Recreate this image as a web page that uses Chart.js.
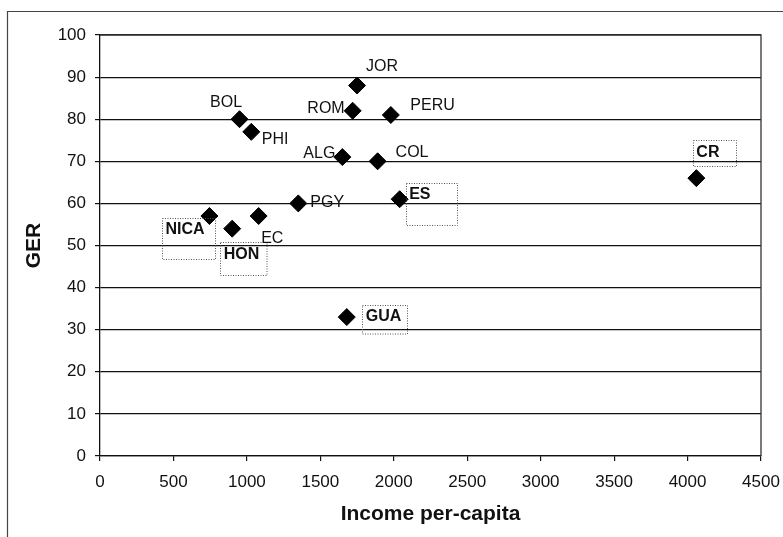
<!DOCTYPE html>
<html><head><meta charset="utf-8">
<script src="https://cdn.jsdelivr.net/npm/chart.js@4"></script>
<style>html,body{margin:0;padding:0;background:#fff}#wrap{width:783px;height:537px;position:relative}</style>
</head><body><div id="wrap"><canvas id="c" width="783" height="537"></canvas></div>
<script>
// ---- data ----
const countries = ['NICA','HON','EC','PGY','BOL','PHI','ALG','COL','ROM','JOR','PERU','ES','GUA','CR'];
const income    = [745, 900, 1080, 1350, 950, 1030, 1650, 1890, 1720, 1750, 1980, 2040, 1680, 4060];
const ger       = [57, 54, 57, 60, 80, 77, 71, 70, 82, 88, 81, 61, 33, 66];
const xTicks = [0,500,1000,1500,2000,2500,3000,3500,4000,4500];
const yTicks = [0,10,20,30,40,50,60,70,80,90,100];
const xTitle = 'Income per-capita';
const yTitle = 'GER';

// ---- label layout (pixels relative to marker) ----
const labelStyle = {
  JOR:{dx:9,dy:-19,align:'left'},
  BOL:{dx:2.5,dy:-17,align:'right'},
  PHI:{dx:10.5,dy:8,align:'left'},
  ROM:{dx:-8,dy:-2.5,align:'right'},
  PERU:{dx:19.5,dy:-9,align:'left'},
  ALG:{dx:-7,dy:-3,align:'right'},
  COL:{dx:18,dy:-8.5,align:'left'},
  PGY:{dx:12,dy:-0.5,align:'left'},
  EC:{dx:2.5,dy:22.5,align:'left'},
  NICA:{box:[-47.5,1.5,53,41]},
  HON:{box:[-12,13.5,46.5,33]},
  ES:{box:[6,-16.5,51,42]},
  GUA:{box:[15.5,-12.5,45,28.5]},
  CR:{box:[-3.5,-38,43,26]}
};
const FONT = "'Liberation Sans', Arial, Helvetica, sans-serif";

const framePlugin = {
  id:'frame',
  beforeDraw(chart){
    const ctx = chart.ctx;
    ctx.save();
    ctx.fillStyle='#fff';
    ctx.fillRect(0,0,chart.width,chart.height);
    ctx.strokeStyle='#444';
    ctx.lineWidth=1.2;
    ctx.beginPath();
    ctx.moveTo(7.5, chart.height);
    ctx.lineTo(7.5, 11.5);
    ctx.lineTo(chart.width, 11.5);
    ctx.stroke();
    ctx.restore();
  },
  afterDraw(chart){
    const a = chart.chartArea, ctx = chart.ctx;
    ctx.save();
    ctx.strokeStyle='#333';
    ctx.lineWidth=1.3;
    ctx.beginPath();
    ctx.moveTo(a.left, a.top);
    ctx.lineTo(a.right, a.top);
    ctx.lineTo(a.right, a.bottom);
    ctx.stroke();
    ctx.restore();
  }
};

const labelPlugin = {
  id:'pointLabels',
  afterDatasetsDraw(chart){
    const ctx = chart.ctx;
    const meta = chart.getDatasetMeta(0);
    ctx.save();
    ctx.fillStyle='#111';
    ctx.textBaseline='middle';
    meta.data.forEach((pt,i)=>{
      const name = countries[i];
      const st = labelStyle[name] || {dx:10,dy:0,align:'left'};
      if (st.box){
        const [bx,by,bw,bh] = st.box;
        const L = pt.x+bx, T = pt.y+by;
        ctx.save();
        ctx.strokeStyle='#555';
        ctx.lineWidth=1;
        ctx.setLineDash([1,1.5]);
        ctx.strokeRect(Math.round(L)+0.5, Math.round(T)+0.5, bw, bh);
        ctx.restore();
        ctx.font = 'bold 16px '+FONT;
        ctx.textAlign='left';
        ctx.fillText(name, L+3.5, T+12);
      } else {
        ctx.font = '16px '+FONT;
        ctx.textAlign = st.align;
        ctx.fillText(name, pt.x+st.dx, pt.y+st.dy);
      }
    });
    ctx.restore();
  }
};

new Chart(document.getElementById('c'), {
  type:'scatter',
  data:{
    datasets:[{
      data: income.map((v,i)=>({x:v, y:ger[i]})),
      pointStyle:'rectRot',
      pointRadius:8.5,
      pointHoverRadius:8.5,
      backgroundColor:'#000',
      borderColor:'#000',
      borderWidth:1
    }]
  },
  options:{
    responsive:false,
    animation:false,
    devicePixelRatio:1,
    layout:{padding:{top:35,right:22,left:0,bottom:0}},
    plugins:{legend:{display:false}, tooltip:{enabled:false}},
    scales:{
      x:{
        type:'linear', min:0, max:4500,
        afterBuildTicks(s){ s.ticks = xTicks.map(v=>({value:v})); },
        afterFit(s){ s.height = 81; s.paddingLeft = 0; s.paddingRight = 0; },
        grid:{drawOnChartArea:false, drawTicks:true, tickLength:5, color:'#111', lineWidth:1.2},
        border:{display:true, color:'#111', width:1.3},
        ticks:{color:'#111', font:{family:FONT, size:17}, padding:11, maxRotation:0, autoSkip:false,
               callback:(v)=>String(v)},
        title:{display:true, text:xTitle, color:'#111', font:{family:FONT, size:21, weight:'bold'}, padding:{top:0,bottom:10}}
      },
      y:{
        type:'linear', min:0, max:100,
        afterBuildTicks(s){ s.ticks = yTicks.map(v=>({value:v})); },
        afterFit(s){ s.width = 100; s.paddingTop = 0; s.paddingBottom = 0; },
        grid:{drawOnChartArea:true, drawTicks:true, tickLength:5, color:'#111', lineWidth:1.2},
        border:{display:true, color:'#111', width:1.3},
        ticks:{color:'#111', font:{family:FONT, size:17}, padding:9, autoSkip:false,
               callback:(v)=>String(v)},
        title:{display:true, text:yTitle, color:'#111', font:{family:FONT, size:21, weight:'bold'}, padding:{top:22,bottom:0}}
      }
    }
  },
  plugins:[framePlugin, labelPlugin]
});
</script>
</body></html>
